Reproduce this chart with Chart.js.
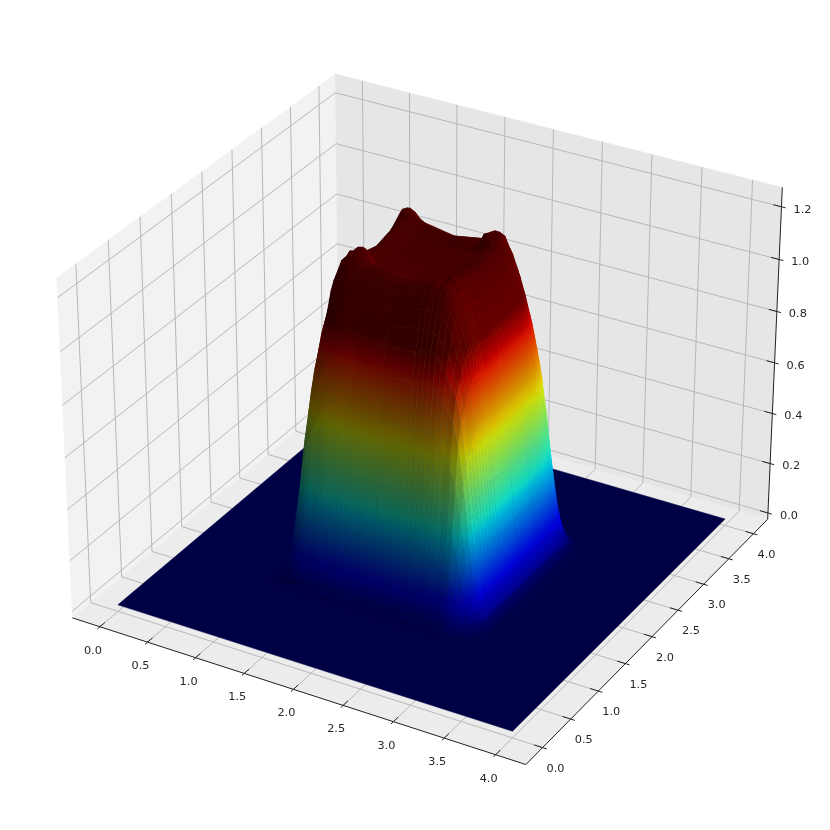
<!DOCTYPE html>
<html>
<head>
<meta charset="utf-8">
<style>
  html, body { margin: 0; padding: 0; background: #fff; }
  canvas { display: block; filter: blur(0.4px); }
</style>
<script src="https://cdn.jsdelivr.net/npm/chart.js@4/dist/chart.umd.js"></script>
</head>
<body>
<canvas id="surface" width="830" height="830"></canvas>
<script>
const xTicks = [0, 0.5, 1, 1.5, 2, 2.5, 3, 3.5, 4];
const yTicks = [0, 0.5, 1, 1.5, 2, 2.5, 3, 3.5, 4];
const zTicks = [0, 0.2, 0.4, 0.6, 0.8, 1, 1.2];
const xTickLabels = ["0.0", "0.5", "1.0", "1.5", "2.0", "2.5", "3.0", "3.5", "4.0"];
const yTickLabels = ["0.0", "0.5", "1.0", "1.5", "2.0", "2.5", "3.0", "3.5", "4.0"];
const zTickLabels = ["0.0", "0.2", "0.4", "0.6", "0.8", "1.0", "1.2"];

// flat sheet the hump sits on
const sheetX = [0, 4];
const sheetY = [0, 4];

// hump heights, one row per entry of humpY, one column per entry of humpX
const humpX = [.9, .95, 1, 1.05, 1.1, 1.15, 1.2, 1.25, 1.3, 1.35, 1.4, 1.45, 1.5, 1.55, 1.6, 1.65, 1.7, 2, 2.3, 2.35, 2.4, 2.45, 2.5, 2.55, 2.6, 2.65, 2.7, 2.75, 2.8, 2.85, 2.9, 2.95, 3, 3.05, 3.1];
const humpY = [.9, .95, 1, 1.05, 1.1, 1.15, 1.2, 1.25, 1.3, 1.35, 1.4, 1.45, 1.5, 1.55, 1.6, 1.65, 1.7, 2, 2.3, 2.35, 2.4, 2.45, 2.5, 2.55, 2.6, 2.65, 2.7, 2.75, 2.8, 2.85, 2.9, 2.95, 3, 3.05, 3.1];
const humpZ = [
  [0,0,0,0,.001,.001,.001,.002,.002,.002,.002,.002,.002,.002,.002,.002,.002,.002,.002,.002,.002,.002,.002,.002,.002,.002,.002,.001,.001,0,0,0,0,0,0],
  [0,0,0,.001,.002,.003,.005,.006,.006,.007,.007,.008,.008,.008,.008,.008,.008,.008,.008,.008,.008,.008,.008,.008,.007,.007,.006,.006,.004,.002,.001,0,0,0,0],
  [0,0,.001,.003,.007,.012,.018,.023,.025,.027,.029,.03,.031,.031,.031,.031,.031,.03,.031,.031,.031,.031,.031,.03,.029,.027,.025,.022,.015,.008,.004,.001,0,0,0],
  [0,.001,.003,.011,.026,.045,.067,.084,.093,.1,.106,.11,.112,.114,.113,.113,.112,.11,.112,.113,.113,.114,.112,.11,.106,.1,.093,.08,.05,.024,.012,.005,.001,0,0],
  [.001,.002,.007,.026,.064,.11,.165,.2,.23,.24,.26,.27,.275,.28,.28,.28,.27,.27,.27,.28,.28,.28,.275,.27,.26,.24,.23,.2,.135,.072,.027,.012,.004,.001,0],
  [.001,.003,.012,.045,.11,.19,.29,.36,.4,.42,.45,.47,.48,.48,.48,.48,.48,.47,.48,.48,.48,.48,.48,.47,.45,.42,.4,.355,.27,.165,.072,.024,.008,.002,0],
  [.001,.005,.018,.067,.165,.29,.43,.53,.59,.63,.67,.7,.71,.72,.72,.71,.71,.7,.71,.71,.72,.72,.71,.7,.67,.63,.6,.53,.4,.27,.135,.05,.015,.004,.001],
  [.002,.006,.023,.084,.2,.36,.53,.66,.73,.79,.83,.86,.88,.89,.89,.89,.88,.87,.88,.89,.89,.89,.88,.86,.83,.79,.76,.68,.53,.355,.2,.08,.022,.006,.001],
  [.002,.006,.025,.093,.23,.4,.59,.73,.82,.88,.93,.96,.99,1,1,.99,.98,.97,.98,.99,1,1,.99,.96,.93,.88,.85,.76,.6,.4,.235,.1,.027,.008,.002],
  [.002,.007,.027,.1,.24,.42,.63,.79,.88,.94,1,1.03,1.06,1.07,1.07,1.06,1.06,1.04,1.06,1.06,1.06,1.06,1.05,1.02,.99,.92,.88,.79,.63,.42,.24,.1,.027,.007,.002],
  [.002,.007,.029,.106,.26,.45,.67,.83,.93,1,1.1,1.13,1.13,1.14,1.13,1.13,1.12,1.1,1.12,1.13,1.12,1.12,1.11,1.09,1.05,.99,.93,.83,.67,.45,.26,.106,.029,.007,.002],
  [.002,.008,.03,.11,.27,.47,.7,.86,.96,1.03,1.13,1.18,1.2,1.19,1.18,1.17,1.16,1.14,1.16,1.17,1.17,1.17,1.16,1.13,1.09,1.02,.96,.86,.7,.47,.27,.11,.03,.008,.002],
  [.002,.008,.031,.112,.275,.48,.71,.88,.99,1.06,1.13,1.2,1.22,1.23,1.22,1.2,1.19,1.17,1.19,1.2,1.19,1.2,1.19,1.16,1.11,1.05,.99,.88,.71,.48,.275,.112,.031,.008,.002],
  [.002,.008,.031,.114,.28,.48,.72,.89,1,1.07,1.14,1.19,1.23,1.235,1.24,1.22,1.2,1.18,1.2,1.21,1.2,1.21,1.2,1.17,1.12,1.06,1,.89,.72,.48,.28,.114,.031,.008,.002],
  [.002,.008,.031,.113,.28,.48,.72,.89,1,1.07,1.13,1.18,1.22,1.24,1.245,1.23,1.19,1.18,1.19,1.2,1.19,1.2,1.19,1.17,1.12,1.07,1,.89,.72,.48,.28,.113,.031,.008,.002],
  [.002,.008,.031,.113,.28,.48,.71,.89,.99,1.06,1.13,1.17,1.2,1.22,1.23,1.21,1.18,1.17,1.18,1.19,1.2,1.21,1.2,1.17,1.13,1.06,.99,.89,.71,.48,.28,.113,.031,.008,.002],
  [.002,.008,.031,.112,.27,.48,.71,.88,.98,1.06,1.12,1.16,1.19,1.2,1.19,1.18,1.17,1.16,1.17,1.18,1.19,1.2,1.19,1.16,1.12,1.06,.98,.88,.71,.48,.27,.112,.031,.008,.002],
  [.002,.008,.03,.11,.27,.47,.7,.87,.97,1.04,1.1,1.14,1.17,1.18,1.18,1.17,1.16,1.15,1.16,1.17,1.18,1.18,1.17,1.14,1.1,1.04,.97,.87,.7,.47,.27,.11,.03,.008,.002],
  [.002,.008,.031,.112,.27,.48,.71,.88,.98,1.06,1.12,1.16,1.19,1.2,1.19,1.18,1.17,1.16,1.17,1.18,1.19,1.2,1.19,1.16,1.12,1.06,.98,.88,.71,.48,.27,.112,.031,.008,.002],
  [.002,.008,.031,.113,.28,.48,.71,.89,.99,1.06,1.13,1.17,1.2,1.21,1.2,1.19,1.18,1.17,1.18,1.21,1.23,1.22,1.2,1.17,1.13,1.06,.99,.89,.71,.48,.28,.113,.031,.008,.002],
  [.002,.008,.031,.113,.28,.48,.72,.89,1,1.07,1.13,1.18,1.22,1.23,1.22,1.2,1.19,1.18,1.19,1.23,1.24,1.235,1.23,1.18,1.13,1.07,1,.89,.72,.48,.28,.113,.031,.008,.002],
  [.002,.008,.031,.114,.28,.48,.72,.89,1,1.07,1.14,1.19,1.23,1.24,1.23,1.21,1.2,1.18,1.2,1.22,1.235,1.23,1.23,1.19,1.14,1.07,1,.89,.72,.48,.28,.114,.031,.008,.002],
  [.002,.008,.031,.112,.275,.48,.71,.88,.99,1.06,1.13,1.18,1.22,1.23,1.22,1.2,1.19,1.17,1.19,1.2,1.23,1.23,1.22,1.18,1.13,1.06,.99,.88,.71,.48,.275,.112,.031,.008,.002],
  [.002,.008,.03,.11,.27,.47,.7,.86,.96,1.03,1.1,1.15,1.18,1.19,1.18,1.17,1.16,1.14,1.16,1.17,1.18,1.19,1.18,1.15,1.1,1.03,.96,.86,.7,.47,.27,.11,.03,.008,.002],
  [.002,.007,.029,.106,.26,.45,.67,.83,.93,1,1.06,1.1,1.13,1.14,1.13,1.13,1.12,1.1,1.12,1.13,1.13,1.14,1.13,1.1,1.06,1,.93,.83,.67,.45,.26,.106,.029,.007,.002],
  [.002,.007,.027,.1,.24,.42,.63,.79,.88,.94,1,1.03,1.06,1.07,1.07,1.06,1.06,1.04,1.06,1.06,1.07,1.07,1.06,1.03,1,.94,.88,.79,.63,.42,.24,.1,.027,.007,.002],
  [.002,.006,.025,.093,.23,.4,.59,.73,.82,.88,.93,.96,.99,1,1,.99,.98,.97,.98,.99,1,1,.99,.96,.93,.88,.82,.73,.59,.4,.23,.093,.025,.006,.002],
  [.002,.006,.023,.084,.2,.36,.53,.66,.73,.79,.83,.86,.88,.89,.89,.89,.88,.87,.88,.89,.89,.89,.88,.86,.83,.79,.73,.66,.53,.36,.2,.084,.023,.006,.002],
  [.001,.005,.018,.067,.165,.29,.43,.53,.59,.63,.67,.7,.71,.72,.72,.71,.71,.7,.71,.71,.72,.72,.71,.7,.67,.63,.59,.53,.43,.29,.165,.067,.018,.005,.001],
  [.001,.003,.012,.045,.11,.19,.29,.36,.4,.42,.45,.47,.48,.48,.48,.48,.48,.47,.48,.48,.48,.48,.48,.47,.45,.42,.4,.36,.29,.19,.11,.045,.012,.003,.001],
  [.001,.002,.007,.026,.064,.11,.165,.2,.23,.24,.26,.27,.275,.28,.28,.28,.27,.27,.27,.28,.28,.28,.275,.27,.26,.24,.23,.2,.165,.11,.064,.026,.007,.002,.001],
  [0,.001,.003,.011,.026,.045,.067,.084,.093,.1,.106,.11,.112,.114,.113,.113,.112,.11,.112,.113,.113,.114,.112,.11,.106,.1,.093,.084,.067,.045,.026,.011,.003,.001,0],
  [0,0,.001,.003,.007,.012,.018,.023,.025,.027,.029,.03,.031,.031,.031,.031,.031,.03,.031,.031,.031,.031,.031,.03,.029,.027,.025,.023,.018,.012,.007,.003,.001,0,0],
  [0,0,0,.001,.002,.003,.005,.006,.006,.007,.007,.008,.008,.008,.008,.008,.008,.008,.008,.008,.008,.008,.008,.008,.007,.007,.006,.006,.005,.003,.002,.001,0,0,0],
  [0,0,0,0,.001,.001,.001,.002,.002,.002,.002,.002,.002,.002,.002,.002,.002,.002,.002,.002,.002,.002,.002,.002,.002,.002,.002,.002,.001,.001,.001,0,0,0,0]
];

// box limits of the 3d axes
const xPane = [-0.2917, 4.2917];
const yPane = [-0.2917, 4.2917];
const zPane = [-0.026, 1.273];
const boxSize = [1.1429, 1.1429, 0.8571];

// view: elev 30, azim -60, dist 10
const camU = [0.433, -0.75, 0.5];
const camV = [0.866, 0.5, 0];
const camW = [-0.25, 0.433, 0.866];
const camDist = 10;

function dot(a, b) {
  return a[0] * b[0] + a[1] * b[1] + a[2] * b[2];
}

function project(x, y, z) {
  const q = [
    ((x - xPane[0]) / (xPane[1] - xPane[0]) - 0.5) * boxSize[0],
    ((y - yPane[0]) / (yPane[1] - yPane[0]) - 0.5) * boxSize[1],
    ((z - zPane[0]) / (zPane[1] - zPane[0]) - 0.5) * boxSize[2]
  ];
  const d = camDist - dot(q, camU);
  return { x: dot(q, camV) / d, y: dot(q, camW) / d };
}

// jet colormap stops
const jetR = [[0, 0], [0.35, 0], [0.66, 1], [0.89, 1], [1, 0.5]];
const jetG = [[0, 0], [0.125, 0], [0.375, 1], [0.64, 1], [0.91, 0], [1, 0]];
const jetB = [[0, 0.5], [0.11, 1], [0.34, 1], [0.65, 0], [1, 0]];

function stopValue(stops, t) {
  for (let i = 1; i < stops.length; i++) {
    if (t <= stops[i][0]) {
      const a = stops[i - 1], b = stops[i];
      return a[1] + (b[1] - a[1]) * (t - a[0]) / (b[0] - a[0]);
    }
  }
  return stops[stops.length - 1][1];
}

function jetColor(z, light) {
  const t = Math.max(0, Math.min(1, z));
  const r = Math.round(255 * stopValue(jetR, t) * light);
  const g = Math.round(255 * stopValue(jetG, t) * light);
  const b = Math.round(255 * stopValue(jetB, t) * light);
  return `rgb(${r},${g},${b})`;
}

// matplotlib style shading, light from az 225 alt 19.47, face normals point down
function cellLight(c) {
  const a = [c[2].x - c[0].x, c[2].y - c[0].y, c[2].z - c[0].z];
  const b = [c[3].x - c[1].x, c[3].y - c[1].y, c[3].z - c[1].z];
  const n = [a[1] * b[2] - a[2] * b[1], a[2] * b[0] - a[0] * b[2], a[0] * b[1] - a[1] * b[0]];
  const len = Math.sqrt(dot(n, n));
  const s = len ? dot(n, [-0.6667, -0.6667, 0.3333]) / len : 0;
  return 0.3 + 0.7 * (-s + 1) / 2;
}

// gradient along the height slope of the cell on screen, from a plane fit of its corners
function cellPaint(chart, corners, light) {
  const sx = chart.scales.x, sy = chart.scales.y;
  const pix = corners.map(p => {
    const q = project(p.x, p.y, p.z);
    return { x: sx.getPixelForValue(q.x), y: sy.getPixelForValue(q.y), z: p.z };
  });
  const cx = pix.reduce((s, p) => s + p.x, 0) / 4;
  const cy = pix.reduce((s, p) => s + p.y, 0) / 4;
  const cz = pix.reduce((s, p) => s + p.z, 0) / 4;
  let xx = 0, xy = 0, yy = 0, xz = 0, yz = 0;
  pix.forEach(p => {
    const dx = p.x - cx, dy = p.y - cy, dz = p.z - cz;
    xx += dx * dx; xy += dx * dy; yy += dy * dy; xz += dx * dz; yz += dy * dz;
  });
  const det = xx * yy - xy * xy;
  if (Math.abs(det) < 1e-6) return jetColor(cz, light);
  const gx = (xz * yy - yz * xy) / det;
  const gy = (yz * xx - xz * xy) / det;
  const glen = Math.sqrt(gx * gx + gy * gy);
  if (glen < 1e-6) return jetColor(cz, light);
  const ux = gx / glen, uy = gy / glen;
  const ts = pix.map(p => (p.x - cx) * ux + (p.y - cy) * uy);
  const t0 = Math.min(...ts), t1 = Math.max(...ts);
  const g = chart.ctx.createLinearGradient(cx + ux * t0, cy + uy * t0, cx + ux * t1, cy + uy * t1);
  for (let k = 0; k <= 6; k++) {
    const t = t0 + (t1 - t0) * k / 6;
    g.addColorStop(k / 6, jetColor(cz + glen * t, light));
  }
  return g;
}

function shape(points, color) {
  return {
    data: points,
    fill: "shape",
    backgroundColor: color,
    borderColor: color,
    borderWidth: 0.5,
    pointRadius: 0,
    tension: 0
  };
}

function stroke(a, b, color, width) {
  return {
    data: [a, b],
    fill: false,
    borderColor: color,
    borderWidth: width,
    pointRadius: 0,
    tension: 0
  };
}

function buildDatasets() {
  const list = [];
  const x0 = xPane[0], x1 = xPane[1], y0 = yPane[0], y1 = yPane[1], z0 = zPane[0], z1 = zPane[1];

  // panes
  list.push(shape([project(x0, y0, z0), project(x0, y1, z0), project(x0, y1, z1), project(x0, y0, z1), project(x0, y0, z0)], "#f2f2f2"));
  list.push(shape([project(x0, y1, z0), project(x1, y1, z0), project(x1, y1, z1), project(x0, y1, z1), project(x0, y1, z0)], "#e6e6e6"));
  list.push(shape([project(x0, y0, z0), project(x1, y0, z0), project(x1, y1, z0), project(x0, y1, z0), project(x0, y0, z0)], "#ececec"));

  // grid
  const gridColor = "#b8b8b8";
  xTicks.forEach(t => {
    list.push(stroke(project(t, y0, z0), project(t, y1, z0), gridColor, 1));
    list.push(stroke(project(t, y1, z0), project(t, y1, z1), gridColor, 1));
  });
  yTicks.forEach(t => {
    list.push(stroke(project(x1, t, z0), project(x0, t, z0), gridColor, 1));
    list.push(stroke(project(x0, t, z0), project(x0, t, z1), gridColor, 1));
  });
  zTicks.forEach(t => {
    list.push(stroke(project(x0, y0, t), project(x0, y1, t), gridColor, 1));
    list.push(stroke(project(x0, y1, t), project(x1, y1, t), gridColor, 1));
  });

  // axis lines and tick marks
  const axisColor = "#222222";
  list.push(stroke(project(x0, y0, z0), project(x1, y0, z0), axisColor, 1));
  list.push(stroke(project(x1, y0, z0), project(x1, y1, z0), axisColor, 1));
  list.push(stroke(project(x1, y1, z0), project(x1, y1, z1), axisColor, 1));
  xTicks.forEach(t => list.push(stroke(project(t, y0 - 0.04, z0), project(t, y0 + 0.08, z0), axisColor, 1)));
  yTicks.forEach(t => list.push(stroke(project(x1 + 0.04, t, z0), project(x1 - 0.08, t, z0), axisColor, 1)));
  zTicks.forEach(t => list.push(stroke(project(x1 + 0.04, y1, t), project(x1 - 0.08, y1, t), axisColor, 1)));

  // flat sheet under the hump
  const sheet = [
    { x: sheetX[0], y: sheetY[0], z: 0 }, { x: sheetX[1], y: sheetY[0], z: 0 },
    { x: sheetX[1], y: sheetY[1], z: 0 }, { x: sheetX[0], y: sheetY[1], z: 0 }
  ];
  const sheetPts = sheet.concat(sheet[0]).map(p => project(p.x, p.y, p.z));
  list.push(shape(sheetPts, jetColor(0, cellLight(sheet))));

  // cells back to front: x rising, y falling
  for (let i = 0; i < humpX.length - 1; i++) {
    for (let j = humpY.length - 2; j >= 0; j--) {
      const c = [
        { x: humpX[i], y: humpY[j], z: humpZ[j][i] },
        { x: humpX[i + 1], y: humpY[j], z: humpZ[j][i + 1] },
        { x: humpX[i + 1], y: humpY[j + 1], z: humpZ[j + 1][i + 1] },
        { x: humpX[i], y: humpY[j + 1], z: humpZ[j + 1][i] }
      ];
      const light = cellLight(c);
      const pts = c.concat(c[0]).map(p => project(p.x, p.y, p.z));
      const ds = shape(pts, jetColor((c[0].z + c[1].z + c[2].z + c[3].z) / 4, light));
      ds.cell = c;
      ds.light = light;
      list.push(ds);
    }
  }

  // first dataset is painted last in Chart.js
  return list.reverse();
}

const tickText = {
  id: "tickText",
  afterDraw(chart) {
    const ctx = chart.ctx, sx = chart.scales.x, sy = chart.scales.y;
    ctx.save();
    ctx.font = "11.3px 'DejaVu Sans'";
    ctx.fillStyle = "#262626";
    ctx.textAlign = "center";
    ctx.textBaseline = "middle";
    const put = (p, label, dx, dy) => {
      ctx.fillText(label, sx.getPixelForValue(p.x) + dx, sy.getPixelForValue(p.y) + dy);
    };
    xTicks.forEach((t, i) => put(project(t, yPane[0], zPane[0]), xTickLabels[i], -7, 24));
    yTicks.forEach((t, i) => put(project(xPane[1], t, zPane[0]), yTickLabels[i], 13, 21));
    zTicks.forEach((t, i) => put(project(xPane[1], yPane[1], t), zTickLabels[i], 21, 3));
    ctx.restore();
  }
};

const chart = new Chart(document.getElementById("surface"), {
  type: "line",
  data: { datasets: buildDatasets() },
  plugins: [tickText],
  options: {
    responsive: false,
    animation: false,
    events: [],
    layout: { padding: 0 },
    plugins: { legend: { display: false }, tooltip: { enabled: false } },
    scales: {
      x: { type: "linear", display: false, min: -0.09361, max: 0.08869 },
      y: { type: "linear", display: false, min: -0.09419, max: 0.08903 }
    }
  }
});

// scales are sized now, swap the flat cell colours for gradients
chart.data.datasets.forEach(ds => {
  if (ds.cell) {
    const g = cellPaint(chart, ds.cell, ds.light);
    ds.backgroundColor = g;
    ds.borderColor = g;
  }
});
chart.update();
</script>
</body>
</html>
